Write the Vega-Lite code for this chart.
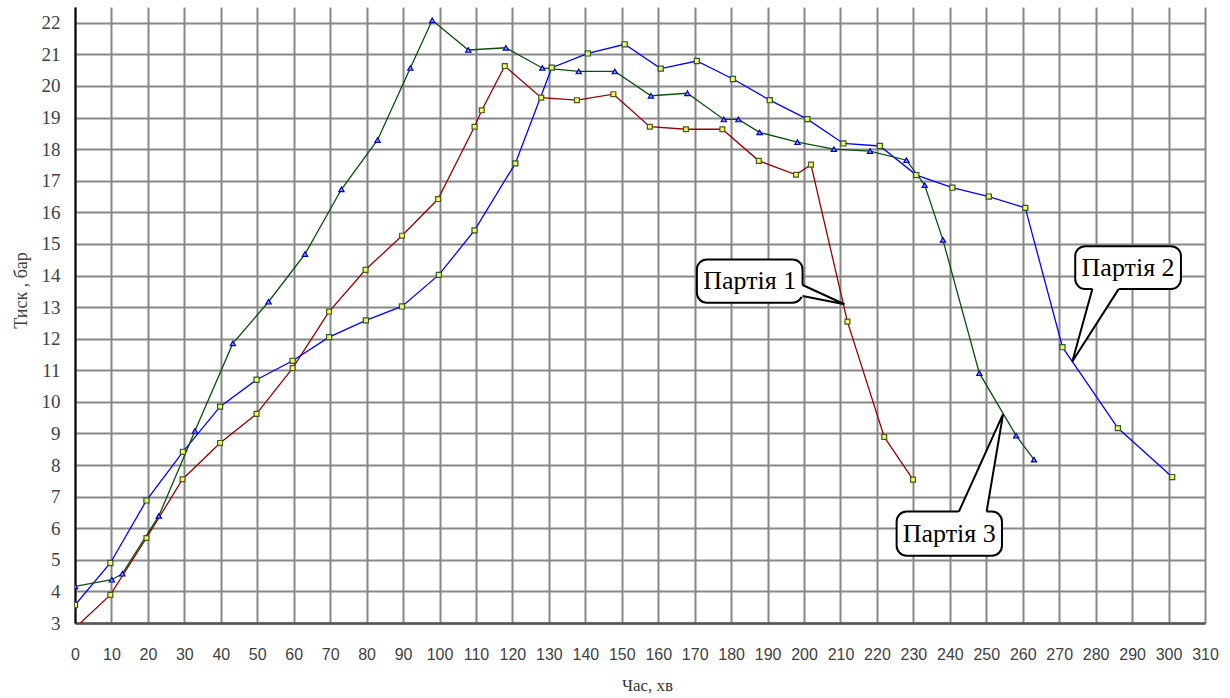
{
  "$schema": "https://vega.github.io/schema/vega-lite/v6.json",
  "width": 1130,
  "height": 616,
  "autosize": {"type": "none"},
  "padding": {"left": 75, "top": 7, "right": 25, "bottom": 75},
  "background": "white",
  "config": {"view": {"stroke": null}},
  "datasets": {
    "series": [
      {"s": "Партія 1", "t": 0, "p": 2.84},
      {"s": "Партія 1", "t": 9.7, "p": 3.89},
      {"s": "Партія 1", "t": 19.6, "p": 5.69},
      {"s": "Партія 1", "t": 29.5, "p": 7.55},
      {"s": "Партія 1", "t": 39.8, "p": 8.7},
      {"s": "Партія 1", "t": 49.8, "p": 9.62},
      {"s": "Партія 1", "t": 59.7, "p": 11.07},
      {"s": "Партія 1", "t": 69.7, "p": 12.86},
      {"s": "Партія 1", "t": 79.7, "p": 14.18},
      {"s": "Партія 1", "t": 89.7, "p": 15.26},
      {"s": "Партія 1", "t": 99.6, "p": 16.42},
      {"s": "Партія 1", "t": 109.6, "p": 18.71},
      {"s": "Партія 1", "t": 111.6, "p": 19.23},
      {"s": "Партія 1", "t": 117.9, "p": 20.63},
      {"s": "Партія 1", "t": 127.9, "p": 19.63},
      {"s": "Партія 1", "t": 137.7, "p": 19.55},
      {"s": "Партія 1", "t": 147.7, "p": 19.74},
      {"s": "Партія 1", "t": 157.7, "p": 18.71},
      {"s": "Партія 1", "t": 167.6, "p": 18.63},
      {"s": "Партія 1", "t": 177.6, "p": 18.63},
      {"s": "Партія 1", "t": 187.6, "p": 17.63},
      {"s": "Партія 1", "t": 197.8, "p": 17.19},
      {"s": "Партія 1", "t": 201.9, "p": 17.51},
      {"s": "Партія 1", "t": 211.9, "p": 12.54},
      {"s": "Партія 1", "t": 222.0, "p": 8.89},
      {"s": "Партія 1", "t": 229.9, "p": 7.54},
      {"s": "Партія 2", "t": 0, "p": 3.57},
      {"s": "Партія 2", "t": 9.7, "p": 4.9},
      {"s": "Партія 2", "t": 19.6, "p": 6.88},
      {"s": "Партія 2", "t": 29.6, "p": 8.42},
      {"s": "Партія 2", "t": 39.8, "p": 9.85},
      {"s": "Партія 2", "t": 49.8, "p": 10.7},
      {"s": "Партія 2", "t": 59.7, "p": 11.3},
      {"s": "Партія 2", "t": 69.7, "p": 12.05},
      {"s": "Партія 2", "t": 79.8, "p": 12.58},
      {"s": "Партія 2", "t": 89.7, "p": 13.02},
      {"s": "Партія 2", "t": 99.8, "p": 14.02},
      {"s": "Партія 2", "t": 109.6, "p": 15.43},
      {"s": "Партія 2", "t": 120.8, "p": 17.55},
      {"s": "Партія 2", "t": 130.8, "p": 20.58},
      {"s": "Партія 2", "t": 140.7, "p": 21.03},
      {"s": "Партія 2", "t": 150.8, "p": 21.32},
      {"s": "Партія 2", "t": 160.7, "p": 20.55},
      {"s": "Партія 2", "t": 170.6, "p": 20.79},
      {"s": "Партія 2", "t": 180.5, "p": 20.22},
      {"s": "Партія 2", "t": 190.6, "p": 19.55},
      {"s": "Партія 2", "t": 200.9, "p": 18.95},
      {"s": "Партія 2", "t": 210.8, "p": 18.18},
      {"s": "Партія 2", "t": 220.8, "p": 18.1},
      {"s": "Партія 2", "t": 230.8, "p": 17.18},
      {"s": "Партія 2", "t": 240.7, "p": 16.78},
      {"s": "Партія 2", "t": 250.7, "p": 16.5},
      {"s": "Партія 2", "t": 260.7, "p": 16.14},
      {"s": "Партія 2", "t": 270.9, "p": 11.73},
      {"s": "Партія 2", "t": 286.1, "p": 9.17},
      {"s": "Партія 2", "t": 301.0, "p": 7.62},
      {"s": "Партія 3", "t": 0, "p": 4.16},
      {"s": "Партія 3", "t": 10.1, "p": 4.37},
      {"s": "Партія 3", "t": 13.0, "p": 4.56},
      {"s": "Партія 3", "t": 23.0, "p": 6.39},
      {"s": "Партія 3", "t": 32.9, "p": 9.08},
      {"s": "Партія 3", "t": 43.3, "p": 11.85},
      {"s": "Партія 3", "t": 53.1, "p": 13.17},
      {"s": "Партія 3", "t": 63.1, "p": 14.68},
      {"s": "Партія 3", "t": 73.1, "p": 16.73},
      {"s": "Партія 3", "t": 83.0, "p": 18.29},
      {"s": "Партія 3", "t": 92.0, "p": 20.57},
      {"s": "Партія 3", "t": 98.0, "p": 22.08},
      {"s": "Партія 3", "t": 107.9, "p": 21.14},
      {"s": "Партія 3", "t": 118.2, "p": 21.21},
      {"s": "Партія 3", "t": 128.2, "p": 20.57},
      {"s": "Партія 3", "t": 138.2, "p": 20.46},
      {"s": "Партія 3", "t": 148.1, "p": 20.46},
      {"s": "Партія 3", "t": 158.0, "p": 19.69},
      {"s": "Партія 3", "t": 168.0, "p": 19.77},
      {"s": "Партія 3", "t": 178.0, "p": 18.94},
      {"s": "Партія 3", "t": 182.0, "p": 18.94},
      {"s": "Партія 3", "t": 187.8, "p": 18.53},
      {"s": "Партія 3", "t": 198.2, "p": 18.22},
      {"s": "Партія 3", "t": 208.2, "p": 18.0},
      {"s": "Партія 3", "t": 218.1, "p": 17.94},
      {"s": "Партія 3", "t": 228.1, "p": 17.65},
      {"s": "Партія 3", "t": 233.1, "p": 16.86},
      {"s": "Партія 3", "t": 238.1, "p": 15.13},
      {"s": "Партія 3", "t": 248.1, "p": 10.91},
      {"s": "Партія 3", "t": 258.2, "p": 8.93},
      {"s": "Партія 3", "t": 263.1, "p": 8.17}
    ],
    "boxes": [
      {"label": "Партія 1", "t": 170.6, "t2": 199.6, "p": 14.51, "p2": 13.14},
      {"label": "Партія 2", "t": 274.4, "t2": 303.4, "p": 14.93, "p2": 13.57},
      {"label": "Партія 3", "t": 225.4, "t2": 254.3, "p": 6.53, "p2": 5.13}
    ],
    "labels": [
      {"label": "Партія 1", "t": 185.1, "p": 13.83},
      {"label": "Партія 2", "t": 288.9, "p": 14.25},
      {"label": "Партія 3", "t": 239.85, "p": 5.83}
    ],
    "ptrV": [
      {"id": "1", "t": 199.0, "p": 13.73, "p2": 13.33},
      {"id": "1", "t": 211.1, "p": 13.09, "p2": 13.09}
    ],
    "ptrH": [
      {"id": "2", "p": 13.65, "t": 279.3, "t2": 286.7},
      {"id": "2", "p": 11.28, "t": 273.6, "t2": 273.6},
      {"id": "3", "p": 6.45, "t": 242.2, "t2": 249.98},
      {"id": "3", "p": 9.61, "t": 254.6, "t2": 254.6}
    ],
    "ptrLine": [
      {"id": "1", "o": 1, "t": 199.6, "p": 13.7},
      {"id": "1", "o": 2, "t": 211.1, "p": 13.09},
      {"id": "1", "o": 3, "t": 199.6, "p": 13.35},
      {"id": "2", "o": 1, "t": 279.1, "p": 13.57},
      {"id": "2", "o": 2, "t": 273.6, "p": 11.28},
      {"id": "2", "o": 3, "t": 286.3, "p": 13.57},
      {"id": "3", "o": 1, "t": 242.5, "p": 6.53},
      {"id": "3", "o": 2, "t": 254.6, "p": 9.61},
      {"id": "3", "o": 3, "t": 250.1, "p": 6.53}
    ]
  },
  "encoding": {
    "x": {
      "field": "t", "type": "quantitative",
      "scale": {"domain": [0, 310], "nice": false, "zero": false},
      "axis": {
        "values": [0, 10, 20, 30, 40, 50, 60, 70, 80, 90, 100, 110, 120, 130, 140, 150, 160, 170, 180, 190, 200, 210, 220, 230, 240, 250, 260, 270, 280, 290, 300, 310],
        "grid": true, "gridColor": "#878787", "gridWidth": 2,
        "ticks": false, "tickSize": 0,
        "domainColor": "#555555", "domainWidth": 2.5,
        "labelFont": "Liberation Sans Narrow, Liberation Sans, sans-serif",
        "labelFontSize": 16, "labelColor": "#404040", "labelPadding": 23,
        "labelFlush": false, "labelOverlap": false,
        "title": "Час, хв", "titleFont": "Liberation Serif, Times New Roman, serif", "titleFontSize": 17,
        "titleFontWeight": "normal", "titleColor": "#333333",
        "titleX": 572, "titleY": 67, "titleAlign": "center", "titleBaseline": "alphabetic"
      }
    },
    "y": {
      "field": "p", "type": "quantitative",
      "scale": {"domain": [3, 22.5], "nice": false, "zero": false},
      "axis": {
        "values": [3, 4, 5, 6, 7, 8, 9, 10, 11, 12, 13, 14, 15, 16, 17, 18, 19, 20, 21, 22],
        "grid": true, "gridColor": "#878787", "gridWidth": 2,
        "ticks": false, "tickSize": 0,
        "domainColor": "#000000", "domainWidth": 2,
        "labelFont": "Liberation Serif, Times New Roman, serif", "labelFontSize": 19, "labelColor": "#404040",
        "labelPadding": 15, "labelFlush": false, "labelOverlap": false,
        "title": "Тиск , бар", "titleFont": "Liberation Serif, Times New Roman, serif", "titleFontSize": 18,
        "titleFontWeight": "normal", "titleColor": "#404040",
        "titleAngle": -90, "titleX": -49, "titleY": 283, "titleAlign": "center", "titleBaseline": "alphabetic"
      }
    }
  },
  "layer": [
    {
      "data": {"name": "series"},
      "mark": {"type": "line", "clip": true, "strokeWidth": 1.3},
      "encoding": {
        "color": {
          "field": "s", "type": "nominal",
          "scale": {"domain": ["Партія 1", "Партія 2", "Партія 3"], "range": ["#990000", "#0000ff", "#0b4f0b"]},
          "legend": null
        }
      }
    },
    {
      "data": {"name": "series"},
      "mark": {"type": "point", "filled": true, "clip": true, "strokeWidth": 1.2, "opacity": 1},
      "encoding": {
        "shape": {
          "field": "s", "type": "nominal",
          "scale": {"domain": ["Партія 1", "Партія 2", "Партія 3"], "range": ["square", "square", "triangle-up"]},
          "legend": null
        },
        "fill": {
          "field": "s", "type": "nominal",
          "scale": {"domain": ["Партія 1", "Партія 2", "Партія 3"], "range": ["#f5f56a", "#f5f56a", "#8898ff"]},
          "legend": null
        },
        "stroke": {
          "field": "s", "type": "nominal",
          "scale": {"domain": ["Партія 1", "Партія 2", "Партія 3"], "range": ["#4a5a1a", "#2a5a2a", "#0000c0"]},
          "legend": null
        },
        "size": {
          "field": "s", "type": "nominal",
          "scale": {"domain": ["Партія 1", "Партія 2", "Партія 3"], "range": [24, 28, 42]},
          "legend": null
        }
      }
    },
    {
      "data": {"name": "boxes"},
      "mark": {"type": "rect", "fill": "white", "stroke": "black", "strokeWidth": 2, "cornerRadius": 10},
      "encoding": {
        "x2": {"field": "t2"},
        "y2": {"field": "p2"}
      }
    },
    {
      "data": {"name": "ptrV"},
      "mark": {"type": "area", "fill": "white", "opacity": 1, "orient": "vertical"},
      "encoding": {
        "y2": {"field": "p2"},
        "detail": {"field": "id"}
      }
    },
    {
      "data": {"name": "ptrH"},
      "mark": {"type": "area", "fill": "white", "opacity": 1, "orient": "horizontal"},
      "encoding": {
        "x2": {"field": "t2"},
        "detail": {"field": "id"}
      }
    },
    {
      "data": {"name": "ptrLine"},
      "mark": {"type": "line", "stroke": "black", "strokeWidth": 2},
      "encoding": {
        "detail": {"field": "id"},
        "order": {"field": "o", "type": "quantitative"}
      }
    },
    {
      "data": {"name": "labels"},
      "mark": {"type": "text", "font": "Liberation Serif, Times New Roman, serif", "fontSize": 26, "color": "black", "align": "center", "baseline": "middle"},
      "encoding": {
        "text": {"field": "label"}
      }
    }
  ]
}
